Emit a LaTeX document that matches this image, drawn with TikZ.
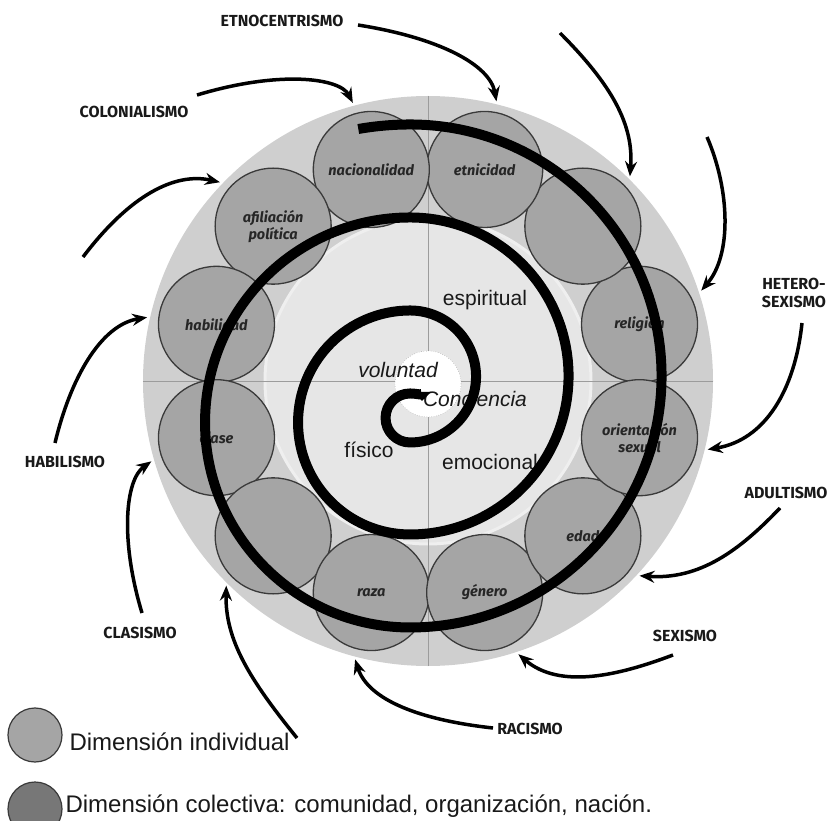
\documentclass[tikz,border=0pt]{standalone}
\usepackage{fontspec}
\setmainfont{Liberation Sans}
\newfontfamily\firafont{Fira Sans}
\usetikzlibrary{arrows.meta, calc}

\definecolor{diskgray}{HTML}{CFCFCF}
\definecolor{innergray}{HTML}{E6E6E6}
\definecolor{rimgray}{HTML}{EFEFEF}
\definecolor{circgray}{HTML}{A5A5A5}
\definecolor{colgray}{HTML}{777777}
\definecolor{circline}{HTML}{3A3A3A}
\definecolor{crossgray}{HTML}{9C9C9C}

\tikzset{
  ringc/.style={circle, draw=circline, fill=circgray, line width=1.3pt, minimum size=116pt,
    inner sep=0pt, align=center, text=black!85,
    font=\firafont\bfseries\itshape\fontsize{14.5}{17}\selectfont},
  ismo/.style={font=\firafont\bfseries\fontsize{16}{20}\selectfont, align=center, text=black!90},
  oparrow/.style={line width=3.5pt, shorten >=3pt, -{Stealth[length=15pt,width=12pt,inset=5pt]}},
  dimtext/.style={font=\fontsize{21}{24}\selectfont, text=black!90},
  dimit/.style={font=\fontsize{21}{24}\selectfont\itshape, text=black!90},
  legtext/.style={font=\fontsize{24}{28}\selectfont, anchor=base west, text=black!90},
  legc/.style={circle, draw=circline, line width=1.2pt, minimum size=54pt, inner sep=0pt},
  spiral/.style={line width=10pt, black}
}

\begin{document}
\begin{tikzpicture}[x=1pt,y=-1pt]
    \useasboundingbox (0,0) rectangle (831,821);
    \coordinate (ctr) at (428,381);

    % discos de fondo
    \node[circle, fill=diskgray, minimum size=570pt, inner sep=0pt] (disk) at (ctr) {};
    \fill[innergray] (ctr) circle (163);
    \draw[rimgray, line width=3pt] (ctr) circle (163);
    \draw[crossgray, line width=0.8pt] (disk.west) -- (disk.east);
    \draw[crossgray, line width=0.8pt] (disk.north) -- (disk.south);
    \filldraw[fill=white, draw=gray, dotted] (428,384) circle (33);

    % circulos de la dimension individual
    \foreach \ang/\nm/\txt in {15/rel/religión, 45/c45/{}, 75/etn/etnicidad, 105/nac/nacionalidad,
        135/afi/{afiliación\\política}, 165/hab/habilidad, 195/cla/clase, 225/c225/{},
        255/raz/raza, 285/gen/género, 315/eda/edad, 345/ori/{orientación\\sexual}}
        \node[ringc] (\nm) at ($(ctr)+(-\ang:219)$) {\txt};

    % dimensiones internas
    \node[dimtext] (espi) at (485,300) {espiritual};
    \node[dimit] (volu) at (398,370) {voluntad};
    \node[dimit] (conc) at (475,399) {Conciencia};
    \node[dimtext] (fisi) at (369,450) {físico};
    \node[dimtext] (emoc) at (490,462) {emocional};

    % espiral
    \draw[spiral, -{Triangle[length=9pt,width=17pt]}] (358.3,129) arc[start angle=260, end angle=270, radius=298]
        arc[start angle=-90, end angle=90, radius=251.5]
        arc[start angle=90, end angle=270, radius=205]
        arc[start angle=-90, end angle=90, radius=158.5]
        arc[start angle=90, end angle=270, radius=112]
        arc[start angle=-90, end angle=90, radius=66]
        arc[start angle=90, end angle=270, radius=24.5]
        .. controls (418,393.5) and (422,396) .. (422,401);

    % opresiones
    \node[ismo] (etno) at (282,21) {ETNOCENTRISMO};
    \node[ismo] (colo) at (134,112) {COLONIALISMO};
    \node[ismo] (hete) at (794,293) {HETERO-\\[-2pt]SEXISMO};
    \node[ismo] (adul) at (786,493) {ADULTISMO};
    \node[ismo] (sexi) at (685,636) {SEXISMO};
    \node[ismo] (raci) at (530,729) {RACISMO};
    \node[ismo] (clas) at (140,633) {CLASISMO};
    \node[ismo] (habi) at (65,462) {HABILISMO};

    \coordinate (etnoS) at (358,25);
    \coordinate (coloS) at (197,95);
    \coordinate (freeC) at (83,257);
    \coordinate (freeD) at (560,33);
    \coordinate (freeE) at (707,137);
    \coordinate (heteS) at (802,323);
    \coordinate (adulS) at (780,508);
    \coordinate (sexiS) at (673,655);
    \coordinate (raciS) at (493,728);
    \coordinate (freeJ) at (297,738);
    \coordinate (clasS) at (142,613);
    \coordinate (habiS) at (55,443);

    \draw[oparrow] (etnoS) .. controls (440,38) and (490,65) .. (disk.76.6);
    \draw[oparrow] (coloS) .. controls (280,70) and (340,78) .. (disk.105.7);
    \draw[oparrow] (freeC) .. controls (130,195) and (175,172) .. (disk.136.5);
    \draw[oparrow] (freeD) .. controls (612,85) and (634,125) .. (disk.45.8);
    \draw[oparrow] (freeE) .. controls (730,190) and (732,255) .. (disk.18.3);
    \draw[oparrow] (heteS) .. controls (795,390) and (765,440) .. (disk.346.8);
    \draw[oparrow] (adulS) .. controls (740,550) and (700,580) .. (disk.317.5);
    \draw[oparrow] (sexiS) .. controls (620,675) and (560,690) .. (disk.288.4);
    \draw[oparrow] (raciS) .. controls (420,720) and (368,700) .. (disk.255.9);
    \draw[oparrow] (freeJ) .. controls (250,680) and (225,640) .. (disk.225.6);
    \draw[oparrow] (clasS) .. controls (120,540) and (125,480) .. (disk.196);
    \draw[oparrow] (habiS) .. controls (70,380) and (100,325) .. (disk.167.4);

    % leyenda
    \node[legc, fill=circgray] (legind) at (35,735) {};
    \node[legc, fill=colgray] (legcol) at (35,809) {};
    \node[legtext] (legindt) at (66,750) {Dimensión individual};
    \node[legtext] (legcolt) at (62,812) {Dimensión colectiva: comunidad, organización, nación.};
\end{tikzpicture}
\end{document}
